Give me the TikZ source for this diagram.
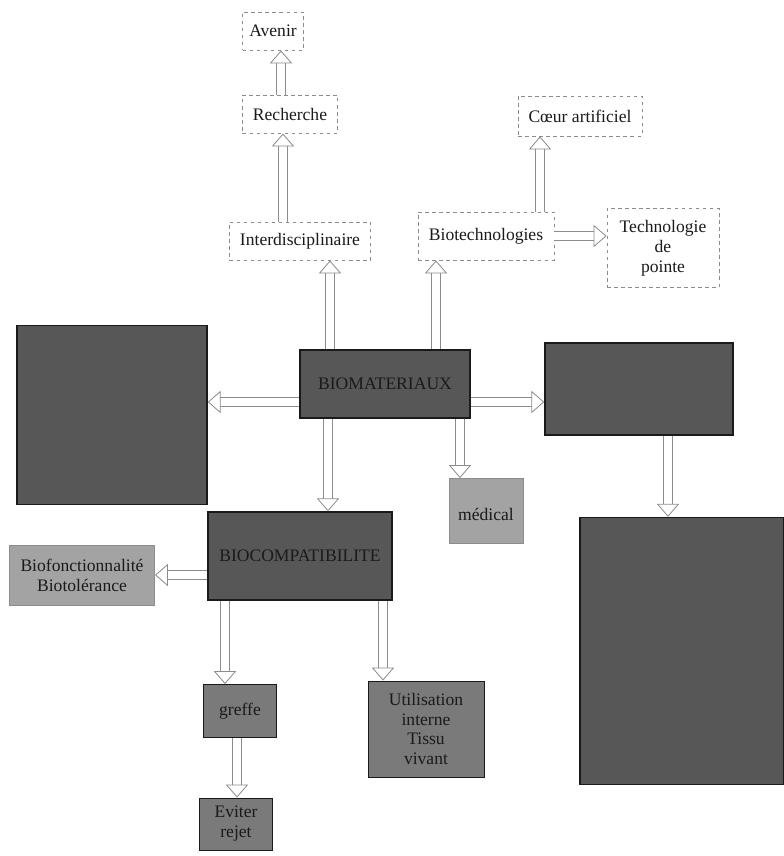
\documentclass[tikz,border=0pt]{standalone}
\usepackage{fontspec}
\setmainfont{Liberation Serif}
\usepackage{xcolor}
\usetikzlibrary{arrows.meta}
\definecolor{scanink}{HTML}{1A1A1A}
\definecolor{scanmuted}{HTML}{8C8C8C}
\definecolor{scandark}{HTML}{575757}
\definecolor{scanmid}{HTML}{7A7A7A}
\definecolor{scanlight}{HTML}{A3A3A3}

\begin{document}
\begin{tikzpicture}[
  x=0.03cm,
  y=-0.03cm,
  every node/.style={font=\fontsize{15}{17}\selectfont, align=center, inner sep=2pt},
  lightbox/.style={draw=scanmuted, dashed, line width=0.8pt, fill=white, text=scanink},
  darkbox/.style={draw=scanink, line width=1.2pt, fill=scandark, text=scanink},
  midbox/.style={draw=scanink, line width=0.8pt, fill=scanmid, text=scanink},
  palebox/.style={draw=scanmuted, line width=0.8pt, fill=scanlight, text=scanink},
  blockarrow/.style={draw=scanmuted, line width=0.7pt, double=white, double distance=7pt,
    -{Triangle[open, length=11pt, width=19pt]}}
]
  \useasboundingbox (0,0) rectangle (784,856);

  % upper part
  \node[lightbox, minimum width=1.83cm, minimum height=1.14cm] (aven) at (273,31) {Avenir};
  \node[lightbox, minimum width=2.85cm, minimum height=1.14cm] (rech) at (290,114) {Recherche};
  \node[lightbox, minimum width=4.23cm, minimum height=1.14cm] (inter) at (300,241) {Interdisciplinaire};
  \node[lightbox, minimum width=3.72cm, minimum height=1.20cm] (coeur) at (580,116) {Cœur artificiel};
  \node[lightbox, minimum width=4.08cm, minimum height=1.44cm] (biotech) at (486,236) {Biotechnologies};
  \node[lightbox, minimum width=3.36cm, minimum height=2.37cm] (techno) at (663,248) {Technologie\\de\\pointe};

  % middle part
  \node[darkbox, minimum width=5.70cm, minimum height=5.37cm] (defin) at (112,415) {};
  \node[darkbox, minimum width=5.10cm, minimum height=2.04cm] (biomat) at (385,384) {BIOMATERIAUX};
  \node[darkbox, minimum width=5.64cm, minimum height=2.76cm] (propr) at (639,389) {};
  \node[palebox, minimum width=2.22cm, minimum height=1.95cm] (medic) at (486,511) {\\médical};
  \node[darkbox, minimum width=6.12cm, minimum height=8.01cm] (exemp) at (682,651) {};

  % lower part
  \node[darkbox, minimum width=5.52cm, minimum height=2.64cm] (biocomp) at (300,556) {BIOCOMPATIBILITE};
  \node[palebox, minimum width=4.35cm, minimum height=1.80cm] (biofonc) at (82,575) {Biofonctionnalité\\Biotolérance};
  \node[midbox, minimum width=2.19cm, minimum height=1.59cm] (greffe) at (240,711) {greffe};
  \node[midbox, minimum width=2.19cm, minimum height=1.56cm] (rejet) at (236,824) {Eviter\\rejet};
  \node[midbox, minimum width=3.48cm, minimum height=2.88cm] (usage) at (426,729) {Utilisation\\interne\\Tissu\\vivant};

  % arrows
  \draw[blockarrow] ([xshift=-0.27cm]rech.north) -- ([xshift=-0.27cm]rech.north |- aven.south);
  \draw[blockarrow] ([xshift=-0.51cm]inter.north) -- ([xshift=-0.51cm]inter.north |- rech.south);
  \draw[blockarrow] ([xshift=-1.65cm]biomat.north) -- ([xshift=-1.65cm]biomat.north |- inter.south);
  \draw[blockarrow] ([xshift=1.53cm]biomat.north) -- ([xshift=1.53cm]biomat.north |- biotech.south);
  \draw[blockarrow] ([xshift=1.62cm]biotech.north) -- ([xshift=1.62cm]biotech.north |- coeur.south);
  \draw[blockarrow] (biotech.east) -- (biotech.east -| techno.west);
  \draw[blockarrow] ([yshift=-0.54cm]biomat.west) -- ([yshift=-0.54cm]biomat.west -| defin.east);
  \draw[blockarrow] ([yshift=-0.54cm]biomat.east) -- ([yshift=-0.54cm]biomat.east -| propr.west);
  \draw[blockarrow] ([xshift=-1.71cm]biomat.south) -- ([xshift=-1.71cm]biomat.south |- biocomp.north);
  \draw[blockarrow] ([xshift=2.25cm]biomat.south) -- ([xshift=2.25cm]biomat.south |- medic.north);
  \draw[blockarrow] ([xshift=0.87cm]propr.south) -- ([xshift=0.87cm]propr.south |- exemp.north);
  \draw[blockarrow] ([yshift=-0.57cm]biocomp.west) -- ([yshift=-0.57cm]biocomp.west -| biofonc.east);
  \draw[blockarrow] ([xshift=-2.25cm]biocomp.south) -- ([xshift=-2.25cm]biocomp.south |- greffe.north);
  \draw[blockarrow] ([xshift=2.49cm]biocomp.south) -- ([xshift=2.49cm]biocomp.south |- usage.north);
  \draw[blockarrow] ([xshift=-0.09cm]greffe.south) -- ([xshift=-0.09cm]greffe.south |- rejet.north);
\end{tikzpicture}
\end{document}
